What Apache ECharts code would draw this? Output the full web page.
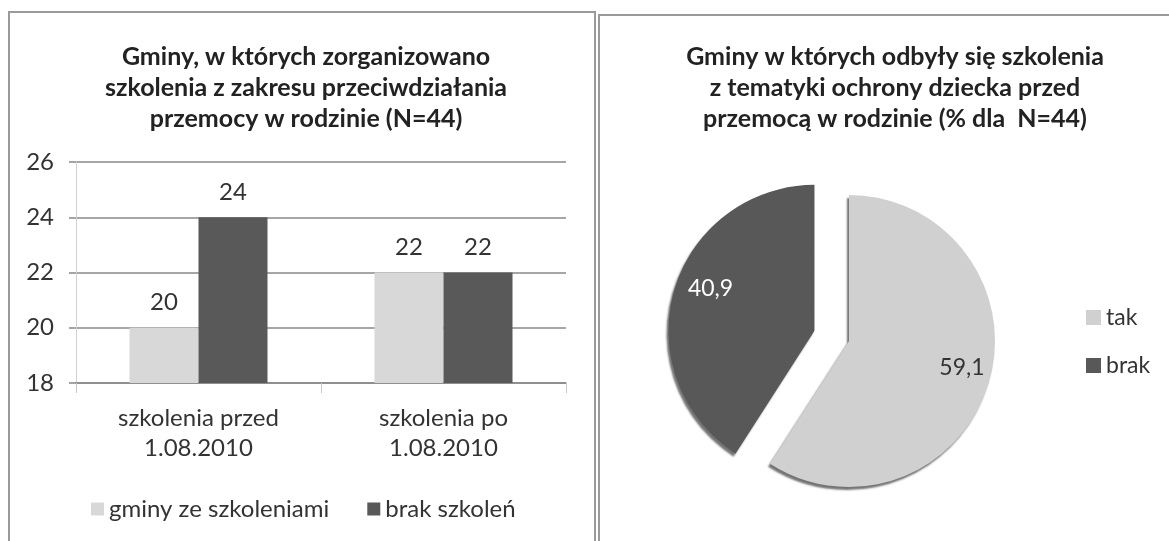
<!DOCTYPE html>
<html>
<head>
<meta charset="UTF-8">
<title>Gminy - szkolenia</title>
<script src="https://cdn.jsdelivr.net/npm/echarts@6/dist/echarts.min.js"></script>
<style>
  html, body { margin: 0; padding: 0; background: #fff; }
  #main { width: 1169px; height: 541px; }
</style>
</head>
<body>
<div id="main"></div>
<script>
  // dane wykresu słupkowego
  var categories = ['szkolenia przed\n1.08.2010', 'szkolenia po\n1.08.2010'];
  var seriesNames = ['gminy ze szkoleniami', 'brak szkoleń'];
  var withTraining = [20, 22];
  var noTraining = [24, 22];
  // dane wykresu kołowego (%)
  var pieNames = ['tak', 'brak'];
  var pieValues = [59.1, 40.9];

  var FONT = 'Lato, "Open Sans", sans-serif';
  var LIGHT = '#d8d8d8';
  var DARK = '#595959';
  var FS = 24;
  // przesunięcie etykiet w wycinkach (bliżej krawędzi, jak w Excelu)
  var pieLabelShift = [[40, 5], [-31, -21]];

  var chart = echarts.init(document.getElementById('main'));

  chart.setOption({
    animation: false,
    textStyle: { fontFamily: FONT, color: '#333' },
    graphic: [
      { type: 'rect', shape: { x: 9, y: 12, width: 586, height: 545 },
        style: { fill: 'none', stroke: '#9a9a9a', lineWidth: 2 }, z: -10 },
      { type: 'rect', shape: { x: 599, y: 15, width: 600, height: 545 },
        style: { fill: 'none', stroke: '#9a9a9a', lineWidth: 2 }, z: -10 }
    ],
    title: [
      {
        text: 'Gminy, w których zorganizowano\nszkolenia z zakresu przeciwdziałania\nprzemocy w rodzinie (N=44)',
        left: 301, top: 36, textAlign: 'center',
        textStyle: { fontFamily: FONT, fontSize: 25, fontWeight: 'bold', color: '#222', lineHeight: 31 }
      },
      {
        text: 'Gminy w których odbyły się szkolenia\nz tematyki ochrony dziecka przed\nprzemocą w rodzinie (% dla  N=44)',
        left: 890, top: 36, textAlign: 'center',
        textStyle: { fontFamily: FONT, fontSize: 25, fontWeight: 'bold', color: '#222', lineHeight: 31 }
      }
    ],
    legend: [
      {
        data: seriesNames,
        left: 86, top: 492,
        icon: 'rect', itemWidth: 13, itemHeight: 13, itemGap: 38,
        textStyle: { fontFamily: FONT, fontSize: FS, color: '#333' },
        selectedMode: false
      },
      {
        data: pieNames,
        orient: 'vertical',
        left: 1081, top: 301,
        icon: 'rect', itemWidth: 15, itemHeight: 15, itemGap: 25,
        textStyle: { fontFamily: FONT, fontSize: 23, color: '#333' },
        selectedMode: false
      }
    ],
    grid: { left: 76, right: 603, top: 162, bottom: 158 },
    xAxis: {
      type: 'category',
      data: categories,
      axisLine: { show: true, lineStyle: { color: '#888', width: 1.5 } },
      axisTick: { show: true, length: 10, lineStyle: { color: '#c8c8c8' } },
      axisLabel: { margin: 20, fontSize: FS, lineHeight: 30, color: '#333', fontFamily: FONT }
    },
    yAxis: {
      type: 'value',
      min: 18, max: 26, interval: 2,
      axisLine: { show: true, lineStyle: { color: '#d0d0d0', width: 1 } },
      axisTick: { show: true, length: 7, lineStyle: { color: '#888', width: 1.5 } },
      splitLine: { lineStyle: { color: '#888', width: 1.5 } },
      axisLabel: { margin: 22, fontSize: FS, color: '#333', fontFamily: FONT }
    },
    series: [
      {
        name: seriesNames[0], type: 'bar', data: withTraining,
        barWidth: 69, barGap: '0%',
        itemStyle: { color: LIGHT },
        label: { show: true, position: 'top', distance: 13, fontSize: FS, color: '#333', fontFamily: FONT }
      },
      {
        name: seriesNames[1], type: 'bar', data: noTraining,
        barWidth: 69, barGap: '0%',
        itemStyle: { color: DARK },
        label: { show: true, position: 'top', distance: 13, fontSize: FS, color: '#333', fontFamily: FONT }
      },
      {
        type: 'pie',
        center: [849, 341],
        radius: 146,
        startAngle: 90,
        clockwise: true,
        selectedMode: 'single',
        selectedOffset: 36,
        itemStyle: {
          shadowColor: 'rgba(0,0,0,0.55)', shadowBlur: 2, shadowOffsetX: -2, shadowOffsetY: 3
        },
        label: {
          show: true, position: 'inside', fontSize: 23, fontFamily: FONT,
          formatter: function (p) { return String(p.value).replace('.', ','); }
        },
        labelLayout: function (p) {
          var s = pieLabelShift[p.dataIndex];
          return { dx: s[0], dy: s[1] };
        },
        labelLine: { show: false },
        emphasis: { disabled: true },
        data: [
          { name: pieNames[0], value: pieValues[0],
            itemStyle: { color: '#d0d0d0' },
            label: { color: '#333' } },
          { name: pieNames[1], value: pieValues[1], selected: true,
            itemStyle: { color: '#585858' },
            label: { color: '#fff' } }
        ]
      }
    ]
  });
</script>
</body>
</html>
